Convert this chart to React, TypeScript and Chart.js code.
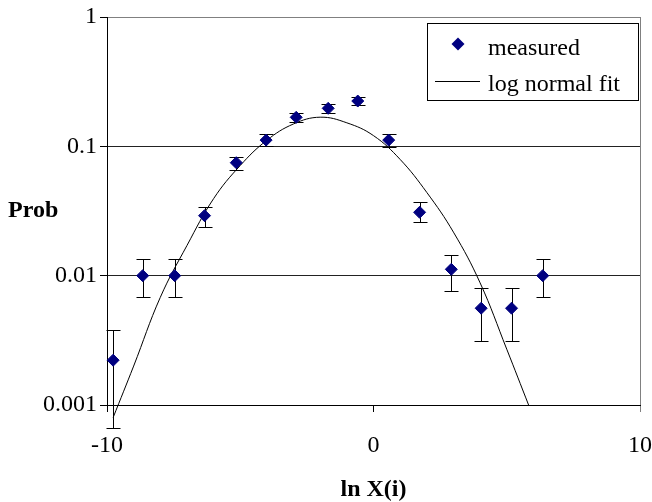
import React, { useEffect, useRef } from 'react';
import { Chart, registerables } from 'chart.js';

Chart.register(...registerables);

// measured points (ln X(i), Prob) with error-bar bounds
const measuredX = [-9.77, -8.66, -7.46, -6.34, -5.15, -4.03, -2.9, -1.7, -0.59, 0.57, 1.73, 2.92, 4.04, 5.18, 6.35];
const measuredY = [0.00222, 0.01, 0.01, 0.0291, 0.0747, 0.1117, 0.1676, 0.1967, 0.224, 0.1117, 0.0309, 0.0112, 0.0056, 0.0056, 0.01];
const errLow = [0.00066, 0.0068, 0.0068, 0.0237, 0.0655, 0.1, 0.153, 0.18, 0.207, 0.0995, 0.0259, 0.0076, 0.0031, 0.0031, 0.0068];
const errHigh = [0.0038, 0.0134, 0.0134, 0.0341, 0.0831, 0.124, 0.18, 0.213, 0.242, 0.124, 0.0372, 0.0145, 0.0081, 0.0081, 0.0134];

// log normal fit curve
const fitX = [-9.77, -9, -8, -7, -6, -5, -4, -3, -2, -1, 0, 1, 2, 3, 4, 5, 5.82];
const fitY = [0.0008, 0.002, 0.0068, 0.0171, 0.0394, 0.0711, 0.1115, 0.149, 0.168, 0.152, 0.121, 0.0792, 0.044, 0.0217, 0.0088, 0.0027, 0.001];

const xTicks = [-10, 0, 10];
const yTicks = [0.001, 0.01, 0.1, 1];
const yTickLabels = ['0.001', '0.01', '0.1', '1'];

const seriesNames = ['measured', 'log normal fit'];
const xTitle = 'ln X(i)';
const yTitle = 'Prob';

const FONT = "'Liberation Serif', 'Times New Roman', serif";
const NAVY = '#000080';

const errorBarPlugin = {
  id: 'errorBars',
  beforeDatasetsDraw(chart: any) {
    const { ctx } = chart;
    const x = chart.scales.x;
    const y = chart.scales.y;
    ctx.save();
    ctx.strokeStyle = '#000';
    ctx.lineWidth = 1;
    measuredX.forEach((mx, i) => {
      const px = Math.round(x.getPixelForValue(mx)) + 0.5;
      const lo = Math.round(y.getPixelForValue(errLow[i])) + 0.5;
      const hi = Math.round(y.getPixelForValue(errHigh[i])) + 0.5;
      ctx.beginPath();
      ctx.moveTo(px, lo);
      ctx.lineTo(px, hi);
      ctx.moveTo(px - 7, lo);
      ctx.lineTo(px + 7, lo);
      ctx.moveTo(px - 7, hi);
      ctx.lineTo(px + 7, hi);
      ctx.stroke();
    });
    ctx.restore();
  },
};

const decorPlugin = {
  id: 'decor',
  afterDraw(chart: any) {
    const { ctx, chartArea } = chart;
    ctx.save();
    // y axis title (horizontal)
    ctx.fillStyle = '#000';
    ctx.font = `bold 24px ${FONT}`;
    ctx.textAlign = 'left';
    ctx.textBaseline = 'middle';
    ctx.fillText(yTitle, 8, (chartArea.top + chartArea.bottom) / 2);

    // legend box
    const bx = chartArea.right - 213;
    const by = chartArea.top + 6;
    const bw = 211;
    const bh = 77;
    ctx.fillStyle = '#fff';
    ctx.fillRect(bx, by, bw, bh);
    ctx.strokeStyle = '#000';
    ctx.lineWidth = 1;
    ctx.strokeRect(Math.round(bx) + 0.5, Math.round(by) + 0.5, bw, bh);

    // diamond marker
    const dx = bx + 31;
    const dy = by + 21;
    const r = 6.5;
    ctx.fillStyle = NAVY;
    ctx.beginPath();
    ctx.moveTo(dx, dy - r);
    ctx.lineTo(dx + r, dy);
    ctx.lineTo(dx, dy + r);
    ctx.lineTo(dx - r, dy);
    ctx.closePath();
    ctx.fill();

    // line sample
    ctx.strokeStyle = '#000';
    ctx.beginPath();
    ctx.moveTo(bx + 8, Math.round(by + 58) + 0.5);
    ctx.lineTo(bx + 53, Math.round(by + 58) + 0.5);
    ctx.stroke();

    ctx.fillStyle = '#000';
    ctx.font = `24px ${FONT}`;
    ctx.textBaseline = 'alphabetic';
    ctx.fillText(seriesNames[0], bx + 61, by + 32);
    ctx.fillText(seriesNames[1], bx + 61, by + 68);
    ctx.restore();
  },
};

export default function App() {
  const ref = useRef<HTMLCanvasElement | null>(null);

  useEffect(() => {
    document.body.style.margin = '0';
    if (!ref.current) return;
    Chart.defaults.font.family = FONT;
    Chart.defaults.font.size = 24;
    Chart.defaults.color = '#000';

    const chart = new Chart(ref.current, {
      type: 'scatter',
      data: {
        datasets: [
          {
            label: seriesNames[0],
            data: measuredX.map((x, i) => ({ x, y: measuredY[i] })),
            pointStyle: 'rectRot',
            pointRadius: 6,
            pointBackgroundColor: NAVY,
            pointBorderColor: NAVY,
            pointBorderWidth: 1,
            showLine: false,
            clip: false,
            order: 0,
          } as any,
          {
            label: seriesNames[1],
            data: fitX.map((x, i) => ({ x, y: fitY[i] })),
            showLine: true,
            borderColor: '#000',
            borderWidth: 1,
            pointRadius: 0,
            tension: 0.4,
            clip: false,
            order: 1,
          } as any,
        ],
      },
      options: {
        responsive: false,
        animation: false,
        devicePixelRatio: 1,
        layout: { padding: { top: 17, right: 12, left: 0, bottom: 0 } },
        plugins: {
          legend: { display: false },
          tooltip: { enabled: false },
        },
        scales: {
          x: {
            type: 'linear',
            min: -10,
            max: 10,
            afterBuildTicks: (s: any) => {
              s.ticks = xTicks.map((v) => ({ value: v }));
            },
            afterFit: (s: any) => {
              s.height = 97;
              s.paddingLeft = 0;
              s.paddingRight = 0;
            },
            grid: {
              drawOnChartArea: true,
              color: (c: any) => (c.tick && c.tick.value === 10 ? '#808080' : 'rgba(0,0,0,0)'),
              tickColor: (c: any) => (c.tick && c.tick.value === 10 ? '#808080' : '#000'),
              tickLength: 7,
              lineWidth: 1,
            },
            border: { display: true, color: '#000', width: 1 },
            ticks: {
              padding: 19,
              maxRotation: 0,
              autoSkip: false,
              color: '#000',
              font: { size: 24, family: FONT },
            },
            title: {
              display: true,
              text: xTitle,
              color: '#000',
              font: { size: 24, weight: 'bold', family: FONT, lineHeight: 1 },
              padding: 0,
            },
          },
          y: {
            type: 'logarithmic',
            min: 0.001,
            max: 1,
            afterBuildTicks: (s: any) => {
              s.ticks = yTicks.map((v) => ({ value: v }));
            },
            afterFit: (s: any) => {
              s.width = 107;
              s.paddingTop = 0;
              s.paddingBottom = 0;
            },
            grid: {
              color: (c: any) => (c.tick && c.tick.value === 1 ? '#808080' : '#222'),
              tickColor: '#000',
              tickLength: 7,
              lineWidth: 1,
            },
            border: { display: true, color: '#000', width: 1 },
            ticks: {
              padding: 3,
              autoSkip: false,
              color: '#000',
              font: { size: 24, family: FONT },
              callback: (v: any) => {
                const i = yTicks.indexOf(Number(v));
                return i >= 0 ? yTickLabels[i] : '';
              },
            },
          },
        },
      } as any,
      plugins: [errorBarPlugin, decorPlugin],
    });

    return () => chart.destroy();
  }, []);

  return <canvas ref={ref} width={652} height={502} style={{ display: 'block' }} />;
}
